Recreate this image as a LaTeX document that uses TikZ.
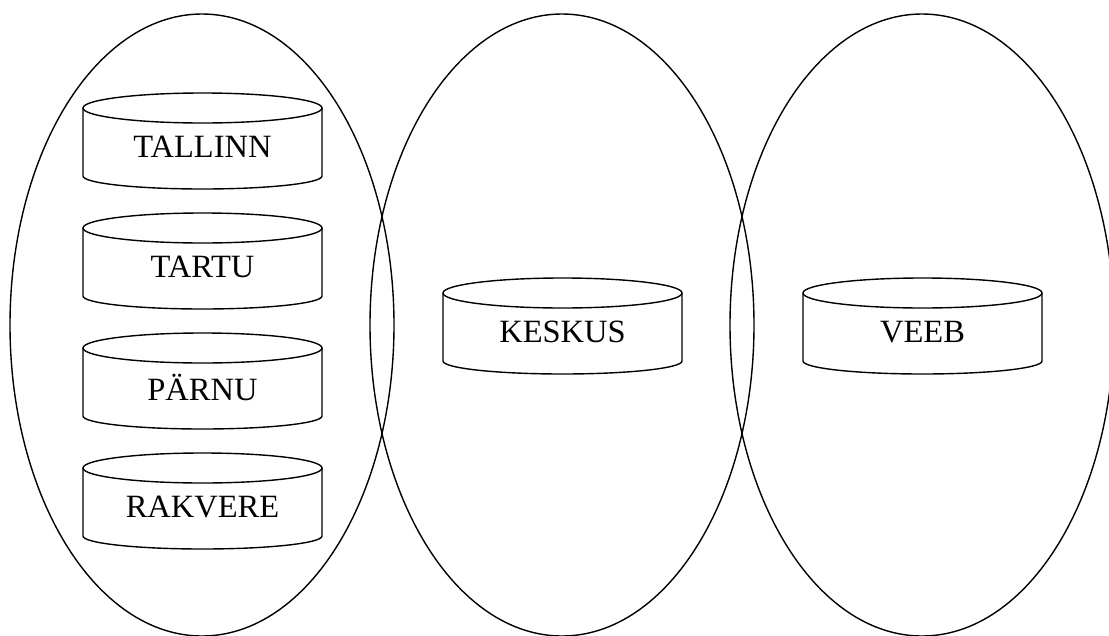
\documentclass[tikz,border=0pt]{standalone}
\usepackage{fontspec}
\setmainfont{Liberation Serif}
\begin{document}
\begin{tikzpicture}[x=1pt,y=1pt,
  line width=1.4pt,
  zone/.style={draw, line width=1.4pt},
  lbl/.style={font=\fontsize{32.5}{38}\selectfont, inner sep=0pt},
  drum/.pic={
    \draw (0,0) ellipse [x radius=119.5, y radius=15];
    \draw (-119.5,0) -- (-119.5,-68) arc [start angle=180, end angle=360, x radius=119.5, y radius=13] -- (119.5,0);
  }]
\useasboundingbox (0,0) rectangle (1109,-635);
\clip (0,0) rectangle (1109,-635);
% zones
\draw[zone] (202,-325) ellipse [x radius=192, y radius=311];
\draw[zone] (562,-325) ellipse [x radius=192, y radius=311];
\draw[zone] (922,-325) ellipse [x radius=192, y radius=311];
% drums
\pic at (202.5,-108) {drum};
\pic at (202.5,-228) {drum};
\pic at (202.5,-348) {drum};
\pic at (202.5,-468) {drum};
\pic at (562.5,-293) {drum};
\pic at (922.5,-293) {drum};
% labels
\node[lbl] (tallinn) at (202.5,-147) {TALLINN};
\node[lbl] (tartu) at (202.5,-267) {TARTU};
\node[lbl] (parnu) at (202.5,-387) {PÄRNU};
\node[lbl] (rakvere) at (202.5,-507) {RAKVERE};
\node[lbl] (keskus) at (562.5,-332) {KESKUS};
\node[lbl] (veeb) at (922.5,-332) {VEEB};
\end{tikzpicture}
\end{document}
